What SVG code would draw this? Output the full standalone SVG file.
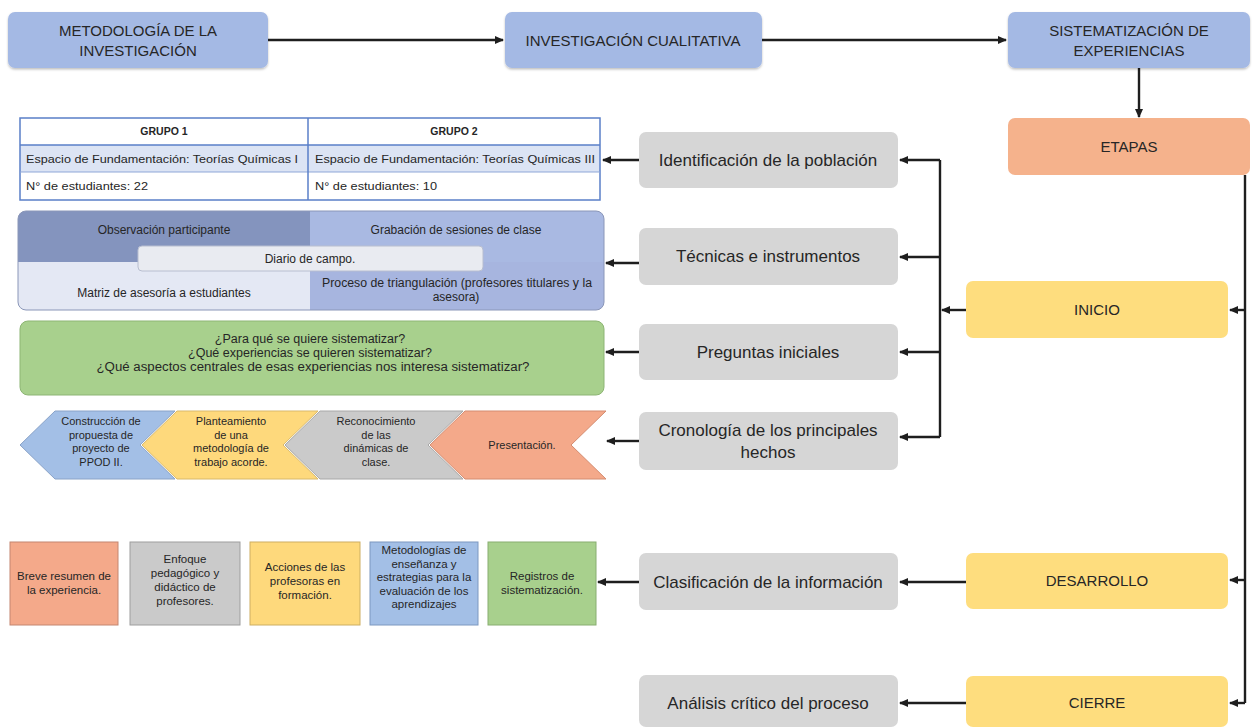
<svg xmlns="http://www.w3.org/2000/svg" width="1259" height="727" viewBox="0 0 1259 727">
<style>
text{font-family:"Liberation Sans",Arial,sans-serif;fill:#262626;text-anchor:middle}
.top{fill:#A4B9E4}
.gray{fill:#D6D6D6}
.yel{fill:#FEDD7E}
.t14{font-size:15px}
.t16{font-size:17px}
.s10{font-size:12px}
.s11{font-size:11px}
.s9{font-size:11.5px}
.lft{text-anchor:start}
.ln{stroke:#1e1e1e;stroke-width:2.4;fill:none}
.lnm{stroke:#1e1e1e;stroke-width:2.4;fill:none;marker-end:url(#ah)}
</style>
<defs>
<marker id="ah" markerUnits="userSpaceOnUse" markerWidth="9" markerHeight="8" refX="8" refY="4" orient="auto">
<path d="M0,0 L9,4 L0,8 Z" fill="#1e1e1e"/>
</marker>
<filter id="sh" x="-5%" y="-10%" width="110%" height="130%">
<feDropShadow dx="0" dy="1.5" stdDeviation="1.2" flood-color="#000" flood-opacity="0.25"/>
</filter>
</defs>
<rect width="1259" height="727" fill="#ffffff"/>

<g id="connectors">
<line class="lnm" x1="268" y1="40" x2="503" y2="40"/>
<line class="lnm" x1="762" y1="40" x2="1006" y2="40"/>
<line class="lnm" x1="1139" y1="68" x2="1139" y2="117"/>
<polyline class="ln" points="1245,175 1245,703"/>
<line class="lnm" x1="1245" y1="310" x2="1230" y2="310"/>
<line class="lnm" x1="1245" y1="580" x2="1230" y2="580"/>
<line class="lnm" x1="1245" y1="703" x2="1230" y2="703"/>
<line class="lnm" x1="966" y1="310" x2="942" y2="310"/>
<polyline class="ln" points="940,160 940,437"/>
<line class="lnm" x1="940" y1="160" x2="900" y2="160"/>
<line class="lnm" x1="940" y1="257" x2="900" y2="257"/>
<line class="lnm" x1="940" y1="352" x2="900" y2="352"/>
<line class="lnm" x1="940" y1="437" x2="900" y2="437"/>
<line class="lnm" x1="966" y1="582" x2="900" y2="582"/>
<line class="lnm" x1="966" y1="703" x2="900" y2="703"/>
<line class="lnm" x1="639" y1="160" x2="603" y2="160"/>
<line class="lnm" x1="639" y1="263" x2="606" y2="263"/>
<line class="lnm" x1="639" y1="352" x2="606" y2="352"/>
<line class="lnm" x1="639" y1="441" x2="607" y2="441"/>
<line class="lnm" x1="639" y1="582" x2="598" y2="582"/>
</g>

<g id="metodologia"><rect class="top" x="8" y="12" width="260" height="56" rx="7" filter="url(#sh)"/>
<text class="t14" x="138" y="36">METODOLOGÍA DE LA</text><text class="t14" x="138" y="56">INVESTIGACIÓN</text></g>
<g id="cualitativa"><rect class="top" x="505" y="12" width="257" height="56" rx="7" filter="url(#sh)"/>
<text class="t14" x="633" y="46">INVESTIGACIÓN CUALITATIVA</text></g>
<g id="sistematizacion"><rect class="top" x="1008" y="12" width="242" height="56" rx="7" filter="url(#sh)"/>
<text class="t14" x="1129" y="36">SISTEMATIZACIÓN DE</text><text class="t14" x="1129" y="56">EXPERIENCIAS</text></g>

<g id="etapas"><rect x="1008" y="118" width="242" height="57" rx="7" fill="#F5B28C"/>
<text class="t14" x="1129" y="152">ETAPAS</text></g>
<g id="inicio"><rect class="yel" x="966" y="281" width="262" height="57" rx="7"/>
<text class="t14" x="1097" y="315">INICIO</text></g>
<g id="desarrollo"><rect class="yel" x="966" y="553" width="262" height="56" rx="7"/>
<text class="t14" x="1097" y="586">DESARROLLO</text></g>
<g id="cierre"><rect class="yel" x="966" y="676" width="262" height="51" rx="7"/>
<text class="t14" x="1097" y="708">CIERRE</text></g>

<g id="identificacion"><rect class="gray" x="639" y="132" width="259" height="56" rx="7"/>
<text class="t16" x="768" y="166">Identificación de la población</text></g>
<g id="tecnicas"><rect class="gray" x="639" y="228" width="259" height="57" rx="7"/>
<text class="t16" x="768" y="262">Técnicas e instrumentos</text></g>
<g id="preguntas"><rect class="gray" x="639" y="324" width="259" height="56" rx="7"/>
<text class="t16" x="768" y="358">Preguntas iniciales</text></g>
<g id="cronologia"><rect class="gray" x="639" y="412" width="259" height="58" rx="7"/>
<text class="t16" x="768" y="436">Cronología de los principales</text><text class="t16" x="768" y="458">hechos</text></g>
<g id="clasificacion"><rect class="gray" x="639" y="553" width="259" height="57" rx="7"/>
<text class="t16" x="768" y="588">Clasificación de la información</text></g>
<g id="analisis"><rect class="gray" x="639" y="675" width="259" height="52" rx="7"/>
<text class="t16" x="768" y="709">Análisis crítico del proceso</text></g>

<g id="tabla">
<rect x="20" y="118" width="580" height="82" fill="#fff"/>
<rect x="20" y="145" width="580" height="27" fill="#DCE4F4"/>
<rect x="20" y="118" width="580" height="82" fill="none" stroke="#5A7FC8" stroke-width="1.5"/>
<line x1="20" y1="145" x2="600" y2="145" stroke="#5A7FC8" stroke-width="1.5"/>
<line x1="20" y1="172" x2="600" y2="172" stroke="#8FA7D8" stroke-width="1"/>
<line x1="308" y1="118" x2="308" y2="200" stroke="#5A7FC8" stroke-width="1.5"/>
<text x="164" y="135" font-size="10.5" font-weight="bold">GRUPO 1</text>
<text x="454" y="135" font-size="10.5" font-weight="bold">GRUPO 2</text>
<text class="s11 lft" x="26" y="163" textLength="272" lengthAdjust="spacingAndGlyphs">Espacio de Fundamentación: Teorías Químicas I</text>
<text class="s11 lft" x="315" y="163" textLength="280" lengthAdjust="spacingAndGlyphs">Espacio de Fundamentación: Teorías Químicas III</text>
<text class="s11 lft" x="26" y="190" textLength="122" lengthAdjust="spacingAndGlyphs">N° de estudiantes: 22</text>
<text class="s11 lft" x="315" y="190" textLength="122" lengthAdjust="spacingAndGlyphs">N° de estudiantes: 10</text>
</g>

<g id="instrumentos">
<clipPath id="cp"><rect x="18" y="211" width="586" height="99" rx="8"/></clipPath>
<g clip-path="url(#cp)">
<rect x="18" y="211" width="292" height="51" fill="#8494BE"/>
<rect x="310" y="211" width="294" height="51" fill="#A9B9E2"/>
<rect x="18" y="262" width="292" height="48" fill="#E4E8F4"/>
<rect x="310" y="262" width="294" height="48" fill="#A7B5DF"/>
</g>
<rect x="18" y="211" width="586" height="99" rx="8" fill="none" stroke="#8A96B8" stroke-width="1"/>
<rect x="138" y="246" width="345" height="25" rx="4" fill="#E9EBF1" stroke="#B8BED0" stroke-width="1"/>
<text class="s10" x="164" y="234">Observación participante</text>
<text class="s10" x="456" y="234">Grabación de sesiones de clase</text>
<text class="s10" x="310" y="263">Diario de campo.</text>
<text class="s10" x="164" y="297">Matriz de asesoría a estudiantes</text>
<text class="s10" x="457" y="287" textLength="270" lengthAdjust="spacingAndGlyphs">Proceso de triangulación (profesores titulares y la</text>
<text class="s10" x="456" y="301">asesora)</text>
</g>

<g id="preguntas-texto">
<rect x="20" y="321" width="584" height="74" rx="8" fill="#A8D08D" stroke="#8DB574" stroke-width="1"/>
<text x="310" y="343" font-size="12.5">¿Para qué se quiere sistematizar?</text>
<text x="310" y="357" font-size="12.5">¿Qué experiencias se quieren sistematizar?</text>
<text x="313" y="371" font-size="12.5" textLength="433" lengthAdjust="spacingAndGlyphs">¿Qué aspectos centrales de esas experiencias nos interesa sistematizar?</text>
</g>

<g id="chevron-construccion">
<polygon points="20,445 55,411 175,411 140,445 175,479 55,479" fill="#A3BFE6" stroke="#8AA3C8" stroke-width="1"/>
<text class="s11" x="101" y="425">Construcción de</text><text class="s11" x="101" y="438.5">propuesta de</text><text class="s11" x="101" y="452">proyecto de</text><text class="s11" x="101" y="465.5">PPOD II.</text>
</g>
<g id="chevron-planteamiento">
<polygon points="142,445 177,411 318,411 283,445 318,479 177,479" fill="#FED97C" stroke="#D9B96A" stroke-width="1"/>
<text class="s11" x="231" y="425">Planteamiento</text><text class="s11" x="231" y="438.5">de una</text><text class="s11" x="231" y="452">metodología de</text><text class="s11" x="231" y="465.5">trabajo acorde.</text>
</g>
<g id="chevron-reconocimiento">
<polygon points="285,445 320,411 463,411 428,445 463,479 320,479" fill="#CACACA" stroke="#A8A8A8" stroke-width="1"/>
<text class="s11" x="376" y="425">Reconocimiento</text><text class="s11" x="376" y="438.5">de las</text><text class="s11" x="376" y="452">dinámicas de</text><text class="s11" x="376" y="465.5">clase.</text>
</g>
<g id="chevron-presentacion">
<polygon points="430,445 465,411 606,411 571,445 606,479 465,479" fill="#F4A98A" stroke="#D48C70" stroke-width="1"/>
<text class="s11" x="522" y="449">Presentación.</text>
</g>

<g id="resumen"><rect x="10" y="542" width="108" height="83" fill="#F4A98A" stroke="#C48670" stroke-width="1"/>
<text class="s9" x="64" y="580">Breve resumen de</text><text class="s9" x="64" y="594">la experiencia.</text></g>
<g id="enfoque"><rect x="130" y="542" width="110" height="83" fill="#CACACA" stroke="#9E9E9E" stroke-width="1"/>
<text class="s9" x="185" y="563">Enfoque</text><text class="s9" x="185" y="577">pedagógico y</text><text class="s9" x="185" y="591">didáctico de</text><text class="s9" x="185" y="605">profesores.</text></g>
<g id="acciones"><rect x="250" y="542" width="110" height="83" fill="#FED97C" stroke="#CDAE62" stroke-width="1"/>
<text class="s9" x="305" y="571">Acciones de las</text><text class="s9" x="305" y="585">profesoras en</text><text class="s9" x="305" y="599">formación.</text></g>
<g id="metodologias"><rect x="370" y="542" width="108" height="83" fill="#A3BFE6" stroke="#7D98C0" stroke-width="1"/>
<text class="s9" x="424" y="554">Metodologías de</text><text class="s9" x="424" y="567.5">enseñanza y</text><text class="s9" x="424" y="581">estrategias para la</text><text class="s9" x="424" y="594.5">evaluación de los</text><text class="s9" x="424" y="608">aprendizajes</text></g>
<g id="registros"><rect x="488" y="542" width="108" height="83" fill="#A8D08D" stroke="#88AE70" stroke-width="1"/>
<text class="s9" x="542" y="580">Registros de</text><text class="s9" x="542" y="594">sistematización.</text></g>
</svg>
